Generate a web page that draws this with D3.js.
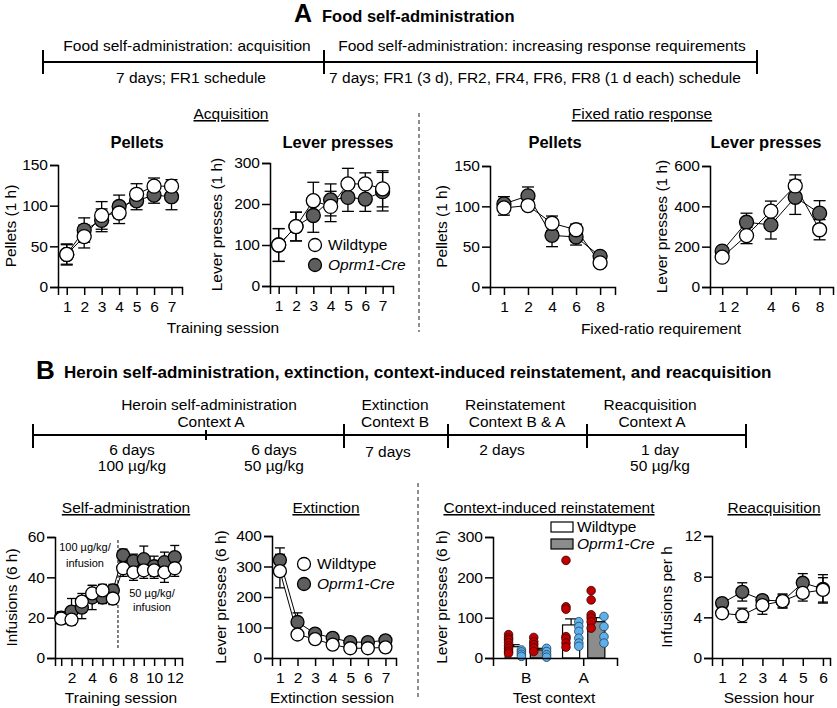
<!DOCTYPE html>
<html>
<head>
<meta charset="utf-8">
<script src="https://cdn.jsdelivr.net/npm/d3@7"></script>
<style>
body { margin: 0; background: #fff; }
svg { display: block; font-family: "Liberation Sans", Arial, sans-serif; }
</style>
</head>
<body>
<script>
// ---- A: food self-administration ----
const acqSession = [1, 2, 3, 4, 5, 6, 7];
const acqPelletsWT = [40, 62, 88, 91, 114, 124, 124];
const acqPelletsWTsem = [13, 14, 17, 13, 13, 10, 8];
const acqPelletsCre = [40, 70, 82, 99, 106, 113, 111];
const acqPelletsCreSem = [12, 15, 14, 14, 11, 10, 16];
const acqLeverWT = [100, 145, 208, 194, 249, 249, 237];
const acqLeverWTsem = [40, 35, 45, 37, 38, 27, 44];
const acqLeverCre = [100, 145, 172, 210, 216, 212, 230];
const acqLeverCreSem = [40, 35, 41, 39, 34, 30, 47];

const frLabels = ["1", "2", "4", "6", "8"];
const frPelletsWT = [98, 101, 79, 71, 30];
const frPelletsWTsem = [9, 5, 9, 7, 4];
const frPelletsCre = [103, 113, 64, 62, 38];
const frPelletsCreSem = [9, 11, 14, 10, 4];
const frLeverWT = [148, 255, 376, 501, 284];
const frLeverWTsem = [15, 40, 50, 55, 50];
const frLeverCre = [178, 321, 308, 445, 366];
const frLeverCreSem = [15, 45, 70, 85, 62];

// ---- B: heroin ----
const saSession = [1, 2, 3, 4, 5, 6, 7, 8, 9, 10, 11, 12];
const saWT = [19.5, 19, 28, 32, 33.5, 29.5, 44.5, 42.5, 43.5, 43.5, 42.5, 44.5];
const saWTsem = [2.5, 2.5, 4, 4, 3, 3, 4, 4, 4, 4, 5, 4];
const saCre = [20, 23, 25, 30, 30, 33.5, 51, 48, 49, 45.5, 47.5, 50];
const saCreSem = [3, 6.5, 5.5, 6, 3, 3, 3, 3.5, 6.5, 5, 5, 5.8];

const extSession = [1, 2, 3, 4, 5, 6, 7];
const extWT = [285, 77, 62, 44, 32, 32, 35];
const extWTsem = [55, 10, 8, 6, 5, 5, 6];
const extCre = [321, 118, 80, 66, 52, 52, 58];
const extCreSem = [40, 30, 10, 8, 6, 6, 15];

const contexts = ["B", "A"];
const genotypes = ["Wildtype", "Oprm1-Cre"];
const reinstWT = [28, 82];
const reinstWTsem = [5, 15];
const reinstCre = [20, 90];
const reinstCreSem = [4, 10];
const reinstWTRed = [[58, 50, 45, 38, 30, 24, 17, 12], [242, 127, 121, 53, 48, 37, 27]];
const reinstWTBlue = [[20, 15, 9, 4], [90, 78, 66, 49, 37, 29]];
const reinstCreRed = [[51, 40, 33, 25, 16], [167, 144, 107, 99, 90, 74]];
const reinstCreBlue = [[24, 16, 8, 2], [103, 78, 53, 37]];

const reacqHour = [1, 2, 3, 4, 5, 6];
const reacqWT = [4.4, 4.2, 5.2, 5.6, 6.4, 6.7];
const reacqWTsem = [0.4, 0.7, 0.9, 0.6, 0.8, 1.2];
const reacqCre = [5.4, 6.5, 5.7, 5.6, 7.4, 6.8];
const reacqCreSem = [0.3, 0.9, 0.4, 0.7, 0.9, 1.4];

const creFill = "#5e5e5e";
const barGray = "#8c8c8c";
const redDot = "#c00000";
const blueDot = "#5fb0ea";

const svg = d3.select("body")
    .append("svg")
    .attr("width", 837)
    .attr("height", 708);

const text = (x, y, s, size, opts = {}) => {
    const t = svg.append("text")
        .attr("x", x)
        .attr("y", y)
        .attr("text-anchor", opts.anchor || "middle")
        .attr("font-size", size + "px")
        .attr("font-weight", opts.bold ? "bold" : null)
        .attr("font-style", opts.italic ? "italic" : null)
        .attr("fill", "black")
        .text(s);
    if (opts.underline) t.style("text-decoration", "underline");
    if (opts.rotate) t.attr("transform", `rotate(-90 ${x} ${y})`);
    return t;
}

const styleAxis = (g) => {
    g.attr("font-family", null).attr("font-size", "15.5px");
    g.selectAll("path, line").attr("stroke-width", 1.5);
}

const errorBars = (g, x, y, xs, m, s, cap) => {
    xs.forEach((xv, i) => {
        const px = x(xv);
        g.append("line")
            .attr("x1", px).attr("x2", px)
            .attr("y1", y(m[i] - s[i])).attr("y2", y(m[i] + s[i]))
            .attr("stroke", "black").attr("stroke-width", 1.3);
        [m[i] - s[i], m[i] + s[i]].forEach(v => {
            g.append("line")
                .attr("x1", px - cap).attr("x2", px + cap)
                .attr("y1", y(v)).attr("y2", y(v))
                .attr("stroke", "black").attr("stroke-width", 1.3);
        });
    });
}

const linePanel = (p) => {
    const x = d3.scaleLinear().domain(p.xDomain).range([p.left, p.right]);
    const y = d3.scaleLinear().domain(p.yDomain).range([p.bottom, p.top]);
    const g = svg.append("g");

    const xg = g.append("g")
        .attr("transform", `translate(0,${p.bottom})`)
        .call(d3.axisBottom(x).tickValues(p.xs).tickSizeOuter(0).tickSize(8).tickPadding(6)
            .tickFormat(p.xFormat));
    styleAxis(xg);
    if (p.shiftLabel) {
        xg.selectAll(".tick text").attr("dx", (d, i) => p.shiftLabel[i] || 0);
    }
    const yg = g.append("g")
        .attr("transform", `translate(${p.left},0)`)
        .call(d3.axisLeft(y).tickValues(p.yTicks).tickSizeOuter(0).tickSize(8).tickPadding(2));
    styleAxis(yg);

    if (p.extra) p.extra(g, x, y);

    errorBars(g, x, y, p.xs, p.cre, p.creSem, p.cap);
    errorBars(g, x, y, p.xs, p.wt, p.wtSem, p.cap);

    const line = d3.line().x((d, i) => x(p.xs[i])).y(d => y(d));
    [p.cre, p.wt].forEach(arr => {
        g.append("path")
            .attr("d", line(arr))
            .attr("fill", "none")
            .attr("stroke", "black")
            .attr("stroke-width", 1);
    });
    [[p.cre, creFill], [p.wt, "white"]].forEach(([arr, fill]) => {
        g.append("g").selectAll("circle")
            .data(arr)
            .join("circle")
            .attr("cx", (d, i) => x(p.xs[i]))
            .attr("cy", d => y(d))
            .attr("r", p.r)
            .attr("fill", fill)
            .attr("stroke", "black")
            .attr("stroke-width", 1.3);
    });

    const midY = (p.top + p.bottom) / 2;
    text(p.ylabelX, midY, p.ylabel, 15.5, { rotate: true });
    if (p.title) text(p.titleX, 148, p.title, 16.5, { bold: true });
}

// ---------- Section A header + timeline ----------
text(294, 22, "A", 25, { bold: true, anchor: "start" });
text(322, 22, "Food self-administration", 16.5, { bold: true, anchor: "start" });

svg.append("line").attr("x1", 43).attr("x2", 757).attr("y1", 62).attr("y2", 62)
    .attr("stroke", "black").attr("stroke-width", 2);
[43, 324, 757].forEach(t => {
    svg.append("line").attr("x1", t).attr("x2", t).attr("y1", 50).attr("y2", 74)
        .attr("stroke", "black").attr("stroke-width", 2);
});
text(187, 51, "Food self-administration: acquisition", 15.5);
text(191, 83, "7 days; FR1 schedule", 15.5);
text(542, 51, "Food self-administration: increasing response requirements", 15.5);
text(535, 83, "7 days; FR1 (3 d), FR2, FR4, FR6, FR8 (1 d each) schedule", 15.5);

text(231, 119, "Acquisition", 15.5, { underline: true });
text(642, 119, "Fixed ratio response", 15.5, { underline: true });

linePanel({
    xs: acqSession, xDomain: [0.5, 7.6], left: 58, right: 182, top: 165, bottom: 287,
    yDomain: [0, 150], yTicks: [0, 50, 100, 150], xFormat: d => d,
    wt: acqPelletsWT, wtSem: acqPelletsWTsem, cre: acqPelletsCre, creSem: acqPelletsCreSem,
    r: 7, cap: 6, ylabel: "Pellets (1 h)", ylabelX: 16, title: "Pellets", titleX: 137
});
linePanel({
    xs: acqSession, xDomain: [0.5, 7.6], left: 270, right: 393, top: 163, bottom: 286,
    yDomain: [0, 300], yTicks: [0, 100, 200, 300], xFormat: d => d,
    wt: acqLeverWT, wtSem: acqLeverWTsem, cre: acqLeverCre, creSem: acqLeverCreSem,
    r: 7, cap: 6, ylabel: "Lever presses (1 h)", ylabelX: 222, title: "Lever presses", titleX: 338
});
linePanel({
    xs: [0, 1, 2, 3, 4], xDomain: [-0.58, 4.62], left: 490, right: 615, top: 166, bottom: 287,
    yDomain: [0, 150], yTicks: [0, 50, 100, 150], xFormat: i => frLabels[i],
    wt: frPelletsWT, wtSem: frPelletsWTsem, cre: frPelletsCre, creSem: frPelletsCreSem,
    r: 7, cap: 6, ylabel: "Pellets (1 h)", ylabelX: 447, title: "Pellets", titleX: 555
});
linePanel({
    xs: [0, 1, 2, 3, 4], xDomain: [-0.5, 4.55], left: 710, right: 833, top: 166, bottom: 287,
    yDomain: [0, 600], yTicks: [0, 200, 400, 600], xFormat: i => frLabels[i],
    shiftLabel: [0, -12, 0, 0, 0],
    wt: frLeverWT, wtSem: frLeverWTsem, cre: frLeverCre, creSem: frLeverCreSem,
    r: 7, cap: 6, ylabel: "Lever presses (1 h)", ylabelX: 667, title: "Lever presses", titleX: 766
});

text(223, 333, "Training session", 15.5);
text(661, 334, "Fixed-ratio requirement", 15.5);

// legend in acquisition lever panel
svg.append("circle").attr("cx", 315).attr("cy", 245).attr("r", 6.5)
    .attr("fill", "white").attr("stroke", "black").attr("stroke-width", 1.3);
svg.append("circle").attr("cx", 315).attr("cy", 265).attr("r", 6.5)
    .attr("fill", creFill).attr("stroke", "black").attr("stroke-width", 1.3);
text(328, 250, "Wildtype", 15.5, { anchor: "start" });
text(328, 270, "Oprm1-Cre", 15.5, { anchor: "start", italic: true });

svg.append("line").attr("x1", 419).attr("x2", 419).attr("y1", 113).attr("y2", 332)
    .attr("stroke", "#444").attr("stroke-width", 1.2).attr("stroke-dasharray", "4,3");

// ---------- Section B header + timeline ----------
text(36, 379, "B", 26, { bold: true, anchor: "start" });
text(64, 378, "Heroin self-administration, extinction, context-induced reinstatement, and reacquisition", 17, { bold: true, anchor: "start" });

svg.append("line").attr("x1", 33).attr("x2", 746).attr("y1", 435).attr("y2", 435)
    .attr("stroke", "black").attr("stroke-width", 2);
[33, 344, 448, 587, 746].forEach(t => {
    svg.append("line").attr("x1", t).attr("x2", t).attr("y1", 424).attr("y2", 448)
        .attr("stroke", "black").attr("stroke-width", 2);
});
svg.append("line").attr("x1", 206).attr("x2", 206).attr("y1", 430).attr("y2", 440)
    .attr("stroke", "black").attr("stroke-width", 2);

text(209, 410, "Heroin self-administration", 15.5);
text(211, 427, "Context A", 15.5);
text(395, 410, "Extinction", 15.5);
text(395, 427, "Context B", 15.5);
text(515, 410, "Reinstatement", 15.5);
text(517, 427, "Context B & A", 15.5);
text(650, 410, "Reacquisition", 15.5);
text(652, 427, "Context A", 15.5);
text(132, 455, "6 days", 15.5);
text(132, 471, "100 µg/kg", 15.5);
text(274, 455, "6 days", 15.5);
text(274, 471, "50 µg/kg", 15.5);
text(388, 457, "7 days", 15.5);
text(502, 455, "2 days", 15.5);
text(660, 455, "1 day", 15.5);
text(660, 471, "50 µg/kg", 15.5);

text(126, 513, "Self-administration", 15.5, { underline: true });
text(326, 513, "Extinction", 15.5, { underline: true });
text(549, 513, "Context-induced  reinstatement", 15.5, { underline: true });
text(774, 513, "Reacquisition", 15.5, { underline: true });

linePanel({
    xs: saSession, xDomain: [0.4, 12.7], left: 55, right: 182, top: 537, bottom: 658,
    yDomain: [0, 60], yTicks: [0, 20, 40, 60], xFormat: d => d % 2 === 0 ? d : "",
    wt: saWT, wtSem: saWTsem, cre: saCre, creSem: saCreSem,
    r: 6.5, cap: 4.5, ylabel: "Infusions (6 h)", ylabelX: 17,
    extra: (g, x, y) => {
        g.append("line").attr("x1", x(6.5)).attr("x2", x(6.5)).attr("y1", 540).attr("y2", 650)
            .attr("stroke", "black").attr("stroke-width", 1).attr("stroke-dasharray", "3,2");
    }
});
text(85, 551, "100 µg/kg/", 11);
text(85, 567, "infusion", 11);
text(152, 597, "50 µg/kg/", 11);
text(152, 611, "infusion", 11);

linePanel({
    xs: extSession, xDomain: [0.55, 7.6], left: 272, right: 396, top: 536, bottom: 658,
    yDomain: [0, 400], yTicks: [0, 100, 200, 300, 400], xFormat: d => d,
    wt: extWT, wtSem: extWTsem, cre: extCre, creSem: extCreSem,
    r: 6.5, cap: 5, ylabel: "Lever presses (6 h)", ylabelX: 226
});
svg.append("circle").attr("cx", 304).attr("cy", 564).attr("r", 6.5)
    .attr("fill", "white").attr("stroke", "black").attr("stroke-width", 1.3);
svg.append("circle").attr("cx", 304).attr("cy", 584).attr("r", 6.5)
    .attr("fill", creFill).attr("stroke", "black").attr("stroke-width", 1.3);
text(317, 569, "Wildtype", 15.5, { anchor: "start" });
text(317, 589, "Oprm1-Cre", 15.5, { anchor: "start", italic: true });

linePanel({
    xs: reacqHour, xDomain: [0.5, 6.35], left: 712, right: 830, top: 536, bottom: 658,
    yDomain: [0, 12], yTicks: [0, 4, 8, 12], xFormat: d => d,
    wt: reacqWT, wtSem: reacqWTsem, cre: reacqCre, creSem: reacqCreSem,
    r: 6.5, cap: 5, ylabel: "Infusions per h", ylabelX: 672
});

text(121, 703, "Training session", 15.5);
text(332, 703, "Extinction session", 15.5);
text(554, 703, "Test context", 15.5);
text(769, 703, "Session hour", 15.5);

// ---------- Reinstatement bar panel ----------
const x0 = d3.scaleBand().domain(contexts).range([493, 617]).paddingOuter(0.08);
const x1 = d3.scaleBand().domain(genotypes).range([0, x0.bandwidth()]).paddingInner(0.32).paddingOuter(0.3);
const yR = d3.scaleLinear().domain([0, 300]).range([658, 537]);
const rg = svg.append("g");

const barData = [];
contexts.forEach((c, ci) => {
    barData.push({ c, g: "Wildtype", m: reinstWT[ci], s: reinstWTsem[ci], fill: "white", red: reinstWTRed[ci], blue: reinstWTBlue[ci] });
    barData.push({ c, g: "Oprm1-Cre", m: reinstCre[ci], s: reinstCreSem[ci], fill: barGray, red: reinstCreRed[ci], blue: reinstCreBlue[ci] });
});
const bw = x1.bandwidth();
barData.forEach(d => {
    const bx = x0(d.c) + x1(d.g);
    rg.append("rect")
        .attr("x", bx).attr("y", yR(d.m))
        .attr("width", bw).attr("height", yR(0) - yR(d.m))
        .attr("fill", d.fill).attr("stroke", "black").attr("stroke-width", 1.2);
    const cx = bx + bw / 2;
    rg.append("line").attr("x1", cx).attr("x2", cx).attr("y1", yR(d.m)).attr("y2", yR(d.m + d.s))
        .attr("stroke", "black").attr("stroke-width", 1.2);
    rg.append("line").attr("x1", cx - 6).attr("x2", cx + 6).attr("y1", yR(d.m + d.s)).attr("y2", yR(d.m + d.s))
        .attr("stroke", "black").attr("stroke-width", 1.2);
    rg.selectAll(null).data(d.red).join("circle")
        .attr("cx", bx + bw * 0.2).attr("cy", v => yR(v)).attr("r", 4.3)
        .attr("fill", redDot).attr("stroke", "#3a0000").attr("stroke-width", 0.8);
    rg.selectAll(null).data(d.blue).join("circle")
        .attr("cx", bx + bw * 0.95).attr("cy", v => yR(v)).attr("r", 4.3)
        .attr("fill", blueDot).attr("stroke", "#1d3f5a").attr("stroke-width", 0.8);
});
const rxg = rg.append("g").attr("transform", "translate(0,658)")
    .call(d3.axisBottom(x0).tickSizeOuter(0).tickSize(8).tickPadding(6));
styleAxis(rxg);
const ryg = rg.append("g").attr("transform", "translate(493,0)")
    .call(d3.axisLeft(yR).tickValues([0, 100, 200, 300]).tickSizeOuter(0).tickSize(8).tickPadding(2));
styleAxis(ryg);
text(447, 597, "Lever presses (6 h)", 15.5, { rotate: true });

svg.append("rect").attr("x", 551).attr("y", 522).attr("width", 22).attr("height", 10)
    .attr("fill", "white").attr("stroke", "black").attr("stroke-width", 1.2);
svg.append("rect").attr("x", 551).attr("y", 539).attr("width", 22).attr("height", 10)
    .attr("fill", barGray).attr("stroke", "black").attr("stroke-width", 1.2);
text(577, 532, "Wildtype", 15.5, { anchor: "start" });
text(577, 549, "Oprm1-Cre", 15.5, { anchor: "start", italic: true });

svg.append("line").attr("x1", 418).attr("x2", 418).attr("y1", 483).attr("y2", 700)
    .attr("stroke", "#444").attr("stroke-width", 1.2).attr("stroke-dasharray", "4,3");
</script>
</body>
</html>
